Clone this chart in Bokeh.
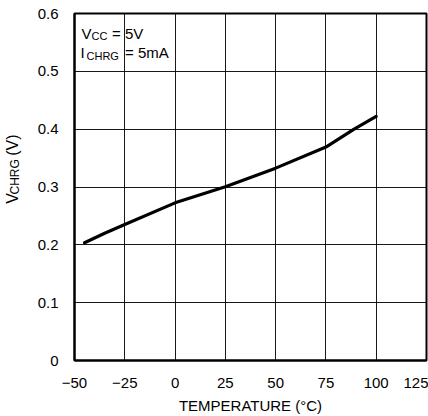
import numpy as np
from bokeh.plotting import figure
from bokeh.models import FixedTicker, Label, Range1d
from bokeh.layouts import row
from bokeh.embed import file_html
from bokeh.resources import INLINE

# ---- data ----
temps = [-45, -35, -25, 0, 25, 50, 75, 89, 100]
vchrg = [0.2035, 0.220, 0.235, 0.2726, 0.3005, 0.3326, 0.369, 0.400, 0.422]

x_ticks = [-50, -25, 0, 25, 50, 75, 100, 125]
x_tick_labels = ["\u221250", "\u221225", "0", "25", "50", "75", "100", "125"]
y_ticks = [0, 0.1, 0.2, 0.3, 0.4, 0.5, 0.6]
y_tick_labels = ["0", "0.1", "0.2", "0.3", "0.4", "0.5", "0.6"]

x_title = "TEMPERATURE (\u00b0C)"
y_title_main, y_title_sub, y_title_rest = "V", "CHRG", "(V)"

FONT = "Liberation Sans"
W, H = 428, 416
YLAB_W = 28

p = figure(width=W - YLAB_W, height=H, output_backend="svg", toolbar_location=None,
           x_range=Range1d(-50, 125), y_range=Range1d(0, 0.6),
           min_border_left=74 - YLAB_W, min_border_right=2, min_border_top=13,
           min_border_bottom=53)

p.background_fill_color = "white"
p.border_fill_color = "white"
p.outline_line_color = "black"
p.outline_line_width = 2

for ax in (p.xaxis, p.yaxis):
    ax.major_tick_line_color = None
    ax.minor_tick_line_color = None
    ax.axis_line_color = "black"
    ax.axis_line_width = 2
    ax.major_label_text_font = FONT
    ax.major_label_text_font_size = "15px"
    ax.major_label_text_color = "black"

p.xaxis.ticker = FixedTicker(ticks=x_ticks)
p.yaxis.ticker = FixedTicker(ticks=y_ticks)
p.xaxis.major_label_overrides = {t: l for t, l in zip(x_ticks, x_tick_labels)}
p.yaxis.major_label_overrides = {t: l for t, l in zip(y_ticks, y_tick_labels)}
p.xaxis.major_label_standoff = 11
p.yaxis.major_label_standoff = 10

p.xaxis.axis_label = x_title
p.xaxis.axis_label_text_font = FONT
p.xaxis.axis_label_text_font_size = "15px"
p.xaxis.axis_label_text_font_style = "normal"
p.xaxis.axis_label_text_color = "black"
p.xaxis.axis_label_standoff = 6

p.xgrid.ticker = FixedTicker(ticks=x_ticks)
p.ygrid.ticker = FixedTicker(ticks=y_ticks)
for g in (p.xgrid, p.ygrid):
    g.grid_line_color = "black"
    g.grid_line_width = 1
    g.grid_line_alpha = 0.9

p.line(temps, vchrg, line_color="black", line_width=3.2, line_join="round", line_cap="round")

def lab(fig, text, x, y, xo, yo, size, angle=0.0, align="left", baseline="alphabetic"):
    fig.add_layout(Label(x=x, y=y, x_offset=xo, y_offset=yo, text=text, angle=angle,
                         text_font=FONT, text_font_size=f"{size}px", text_color="black",
                         text_align=align, text_baseline=baseline))

# in-plot annotation
lab(p, "V", -50, 0.6, 7, -20, 15)
lab(p, "CC", -50, 0.6, 17, -22.5, 11)
lab(p, "= 5V", -50, 0.6, 37.5, -20, 15)
lab(p, "I", -50, 0.6, 6, -39, 15)
lab(p, "CHRG", -50, 0.6, 12, -42.5, 11)
lab(p, "= 5mA", -50, 0.6, 50.5, -39, 15)

# y axis title in a narrow strip figure (pixel coordinates, y measured up from the bottom)
ylab = figure(width=YLAB_W, height=H, output_backend="svg", toolbar_location=None,
              x_range=Range1d(0, YLAB_W), y_range=Range1d(0, H),
              x_axis_type=None, y_axis_type=None,
              min_border_left=0, min_border_right=0, min_border_top=0, min_border_bottom=0)
ylab.outline_line_color = None
ylab.grid.visible = False
ylab.background_fill_color = "white"
ylab.border_fill_color = "white"

ang = np.pi / 2
yc = H - 188  # vertical centre of the plot frame
lab(ylab, y_title_main, 11.5, yc - 40, 0, 0, 16, angle=ang)
lab(ylab, y_title_sub, 14.5, yc - 29, 0, 0, 12, angle=ang)
lab(ylab, y_title_rest, 11.5, yc + 17.5, 0, 0, 16, angle=ang)

layout = row(ylab, p)
open("out.html", "w").write(file_html(layout, INLINE))
